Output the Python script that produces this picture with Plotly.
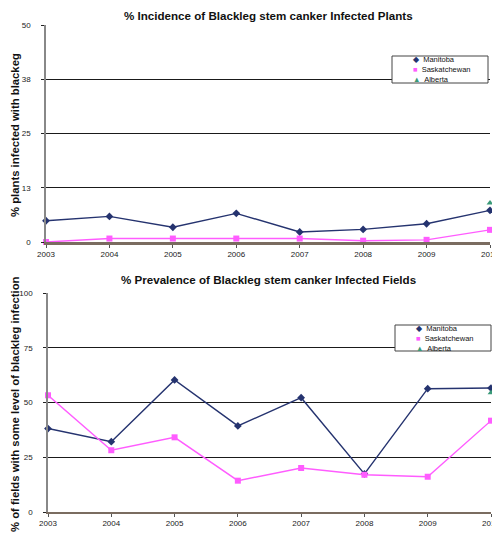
import plotly.graph_objects as go

years = [2003, 2004, 2005, 2006, 2007, 2008, 2009, 2010]

# % incidence (plants)
inc_manitoba = [4.9, 5.9, 3.4, 6.6, 2.3, 2.9, 4.2, 7.3]
inc_sask = [0.0, 0.8, 0.8, 0.8, 0.8, 0.3, 0.5, 2.8]
inc_alberta_year = [2010]
inc_alberta = [9.0]

# % prevalence (fields)
prev_manitoba = [38.1, 32.1, 60.3, 39.3, 52.2, 17.4, 56.3, 56.6]
prev_sask = [53.3, 28.2, 34.1, 14.3, 20.1, 17.0, 16.1, 41.7]
prev_alberta_year = [2010]
prev_alberta = [54.5]

inc_ticks = [0, 12.5, 25, 37.5, 50]
inc_ticktext = ["0", "13", "25", "38", "50"]
prev_ticks = [0, 25, 50, 75, 100]

NAVY = "#25336f"
PINK = "#ff5cff"
GREEN = "#3a9a78"
FONT = "Liberation Sans, Arial, sans-serif"

W, H = 500, 540
OFF = 8  # page body margin in the browser


def px_x(v):
    return (v - OFF) / W


def px_y(v):
    return 1 - (v - OFF) / H


fig = go.Figure()


def add_series(x, y, color, symbol, xa, ya, mode="lines+markers"):
    fig.add_trace(go.Scatter(
        x=x, y=y, mode=mode, showlegend=False,
        line=dict(color=color, width=1.4),
        marker=dict(color=color, symbol=symbol, size=6),
        xaxis=xa, yaxis=ya, cliponaxis=False))


add_series(years, inc_manitoba, NAVY, "diamond", "x", "y")
add_series(years, inc_sask, PINK, "square", "x", "y")
add_series(inc_alberta_year, inc_alberta, GREEN, "triangle-up", "x", "y", mode="markers")

add_series(years, prev_manitoba, NAVY, "diamond", "x2", "y2")
add_series(years, prev_sask, PINK, "square", "x2", "y2")
add_series(prev_alberta_year, prev_alberta, GREEN, "triangle-up", "x2", "y2", mode="markers")

xaxis_common = dict(
    range=[2003, 2010], tickvals=years, ticks="outside", ticklen=3,
    tickcolor="#555555", showgrid=False, zeroline=False, showline=True,
    linecolor="#7a6c60", automargin=False,
    tickfont=dict(size=8, color="#222222", family=FONT),
)
yaxis_common = dict(
    ticks="outside", ticklen=3, tickcolor="#222222", showgrid=True,
    gridcolor="#1a1a1a", gridwidth=1, zeroline=False, showline=True,
    linecolor="#888888", linewidth=1.5, ticklabelstandoff=9, automargin=False,
    tickfont=dict(size=8, color="#222222", family=FONT),
)

# legend boxes drawn by hand
legend_text = ("<span style='color:%s'>◆</span>  Manitoba<br>"
               "<span style='color:%s'>■</span>  Saskatchewan<br>"
               "<span style='color:%s'>▲</span>  Alberta") % (NAVY, PINK, GREEN)

shapes = []
annotations = []
for (lx0, ly0, lx1, ly1) in [(392, 56, 488, 83), (395, 325, 491, 351)]:
    shapes.append(dict(type="rect", xref="paper", yref="paper",
                       x0=px_x(lx0), x1=px_x(lx1), y0=px_y(ly1), y1=px_y(ly0),
                       line=dict(color="#444444", width=1), fillcolor="white", layer="above"))
    annotations.append(dict(text=legend_text, x=px_x(lx0 + 19), y=px_y((ly0 + ly1) / 2),
                            xref="paper", yref="paper", xanchor="left", yanchor="middle",
                            align="left", showarrow=False,
                            font=dict(size=7.5, color="#111111", family=FONT)))

title_font = dict(size=11.6, color="#111111", family=FONT)
ytitle_font = dict(size=11.3, color="#111111", family=FONT)
annotations += [
    dict(text="<b>% Incidence of Blackleg stem canker Infected Plants</b>",
         x=px_x(268), y=px_y(8), xref="paper", yref="paper",
         xanchor="center", yanchor="top", borderpad=0, showarrow=False, font=title_font),
    dict(text="<b>% Prevalence of Blackleg stem canker Infected Fields</b>",
         x=px_x(268), y=px_y(279), xref="paper", yref="paper",
         xanchor="center", yanchor="middle", showarrow=False, font=title_font),
    dict(text="<b>% plants infected with blackeg</b>", textangle=-90,
         x=px_x(8), y=px_y(135), xref="paper", yref="paper",
         xanchor="left", yanchor="middle", borderpad=0, showarrow=False, font=ytitle_font),
    dict(text="<b>% of fields with some level of blackleg infection</b>", textangle=-90,
         x=px_x(8), y=px_y(404), xref="paper", yref="paper",
         xanchor="left", yanchor="middle", borderpad=0, showarrow=False, font=ytitle_font),
]

fig.update_layout(
    width=W, height=H,
    margin=dict(l=0, r=0, t=0, b=0),
    paper_bgcolor="white", plot_bgcolor="white",
    font=dict(family=FONT),
    xaxis=dict(domain=[px_x(46), px_x(490)], anchor="y", linewidth=2.5, **xaxis_common),
    yaxis=dict(domain=[px_y(242), px_y(25)], anchor="x", range=[0, 50],
               tickvals=inc_ticks, ticktext=inc_ticktext, **yaxis_common),
    xaxis2=dict(domain=[px_x(48), px_x(491)], anchor="y2", linewidth=1.5, **xaxis_common),
    yaxis2=dict(domain=[px_y(512), px_y(293)], anchor="x2", range=[0, 100],
                tickvals=prev_ticks, **yaxis_common),
    shapes=shapes,
    annotations=annotations,
)

fig.write_html("out.html")
